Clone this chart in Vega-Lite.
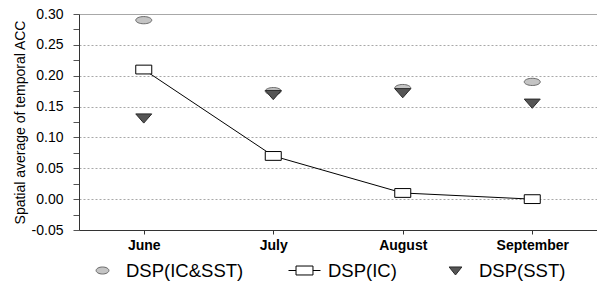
{
  "$schema": "https://vega.github.io/schema/vega-lite/v6.json",
  "width": 518,
  "height": 216,
  "autosize": "none",
  "padding": {"left": 79, "top": 14, "right": 0, "bottom": 52},
  "config": {"font": "Liberation Sans", "view": {"stroke": null}},
  "data": {
    "values": [
      {"month": "June", "series": "DSP(IC&SST)", "value": 0.29},
      {"month": "July", "series": "DSP(IC&SST)", "value": 0.175},
      {"month": "August", "series": "DSP(IC&SST)", "value": 0.18},
      {"month": "September", "series": "DSP(IC&SST)", "value": 0.19},
      {"month": "June", "series": "DSP(SST)", "value": 0.131},
      {"month": "July", "series": "DSP(SST)", "value": 0.169},
      {"month": "August", "series": "DSP(SST)", "value": 0.172},
      {"month": "September", "series": "DSP(SST)", "value": 0.155},
      {"month": "June", "series": "DSP(IC)", "value": 0.21},
      {"month": "July", "series": "DSP(IC)", "value": 0.07},
      {"month": "August", "series": "DSP(IC)", "value": 0.01},
      {"month": "September", "series": "DSP(IC)", "value": 0.0}
    ]
  },
  "encoding": {
    "x": {
      "field": "month", "type": "nominal",
      "sort": ["June", "July", "August", "September"],
      "scale": {"padding": 0.5},
      "axis": {
        "title": null, "labelAngle": 0, "labelFontSize": 14, "labelFontWeight": "bold",
        "labelColor": "#000", "domainColor": "#333", "tickColor": "#333",
        "tickSize": 4, "labelPadding": 4, "grid": false
      }
    },
    "y": {
      "field": "value", "type": "quantitative",
      "scale": {"domain": [-0.05, 0.30], "nice": false, "zero": false},
      "axis": {
        "title": "Spatial average of temporal ACC",
        "titleFontSize": 14, "titleFontWeight": "normal", "titleColor": "#000", "titlePadding": 4,
        "values": [-0.05, -0.025, 0, 0.025, 0.05, 0.075, 0.1, 0.125, 0.15, 0.175, 0.2, 0.225, 0.25, 0.275, 0.3],
        "labelExpr": "abs(datum.value*20 - round(datum.value*20)) > 0.01 ? '' : replace(format(datum.value, '.2f'), '\u2212', '-')",
        "labelFontSize": 14, "labelColor": "#000", "tickSize": 6, "labelPadding": 10,
        "domainColor": "#333", "tickColor": "#555",
        "grid": true, "gridColor": "#a8a8a8",
        "gridDash": {"condition": {"test": "datum.value > 0.29", "value": []}, "value": [2, 2]},
        "gridOpacity": {"condition": {"test": "abs(datum.value*20 - round(datum.value*20)) > 0.01", "value": 0}, "value": 1}
      }
    }
  },
  "layer": [
    {
      "mark": {"type": "point", "filled": true, "size": 1024, "strokeWidth": 1, "opacity": 0},
      "encoding": {
        "shape": {
          "field": "series", "type": "nominal",
          "scale": {
            "domain": ["DSP(IC&SST)", "DSP(IC)", "DSP(SST)"],
            "range": [
              "M-0.4,0A0.4,0.22,0,1,0,0.4,0A0.4,0.22,0,1,0,-0.4,0Z",
              "M-1,0L-0.53,0M-0.53,-0.28L0.53,-0.28L0.53,0.28L-0.53,0.28ZM0.53,0L1,0",
              "M-0.4,-0.22L0.4,-0.22L0,0.28Z"
            ]
          },
          "legend": {
            "title": null, "orient": "none", "legendX": 7, "legendY": 240,
            "direction": "horizontal", "labelFontSize": 18.5, "labelColor": "#000",
            "labelOffset": 7, "columnPadding": 42, "symbolSize": 1024, "padding": 0,
            "symbolOpacity": 1, "symbolStrokeWidth": 1
          }
        },
        "fill": {
          "field": "series", "type": "nominal",
          "scale": {"domain": ["DSP(IC&SST)", "DSP(IC)", "DSP(SST)"], "range": ["#c4c4c4", "#ffffff", "#555555"]}
        },
        "stroke": {
          "field": "series", "type": "nominal",
          "scale": {"domain": ["DSP(IC&SST)", "DSP(IC)", "DSP(SST)"], "range": ["#6a6a6a", "#000000", "#2a2a2a"]}
        }
      }
    },
    {
      "transform": [{"filter": "datum.series === 'DSP(IC&SST)'"}],
      "mark": {"type": "point", "filled": true, "size": 256, "strokeWidth": 1, "opacity": 1,
               "shape": "M-1,0A1,0.45,0,1,0,1,0A1,0.45,0,1,0,-1,0Z", "fill": "#c4c4c4", "stroke": "#6a6a6a"}
    },
    {
      "transform": [{"filter": "datum.series === 'DSP(SST)'"}],
      "mark": {"type": "point", "filled": true, "size": 256, "strokeWidth": 1, "opacity": 1,
               "shape": "M-1,-0.55L1,-0.55L0,0.6Z", "fill": "#555555", "stroke": "#2a2a2a"}
    },
    {
      "transform": [{"filter": "datum.series === 'DSP(IC)'"}],
      "mark": {"type": "line", "color": "#000", "strokeWidth": 1}
    },
    {
      "transform": [{"filter": "datum.series === 'DSP(IC)'"}],
      "mark": {"type": "point", "filled": true, "size": 256, "strokeWidth": 1, "opacity": 1,
               "shape": "M-1,-0.55L1,-0.55L1,0.55L-1,0.55Z", "fill": "#ffffff", "stroke": "#000000"}
    }
  ]
}
